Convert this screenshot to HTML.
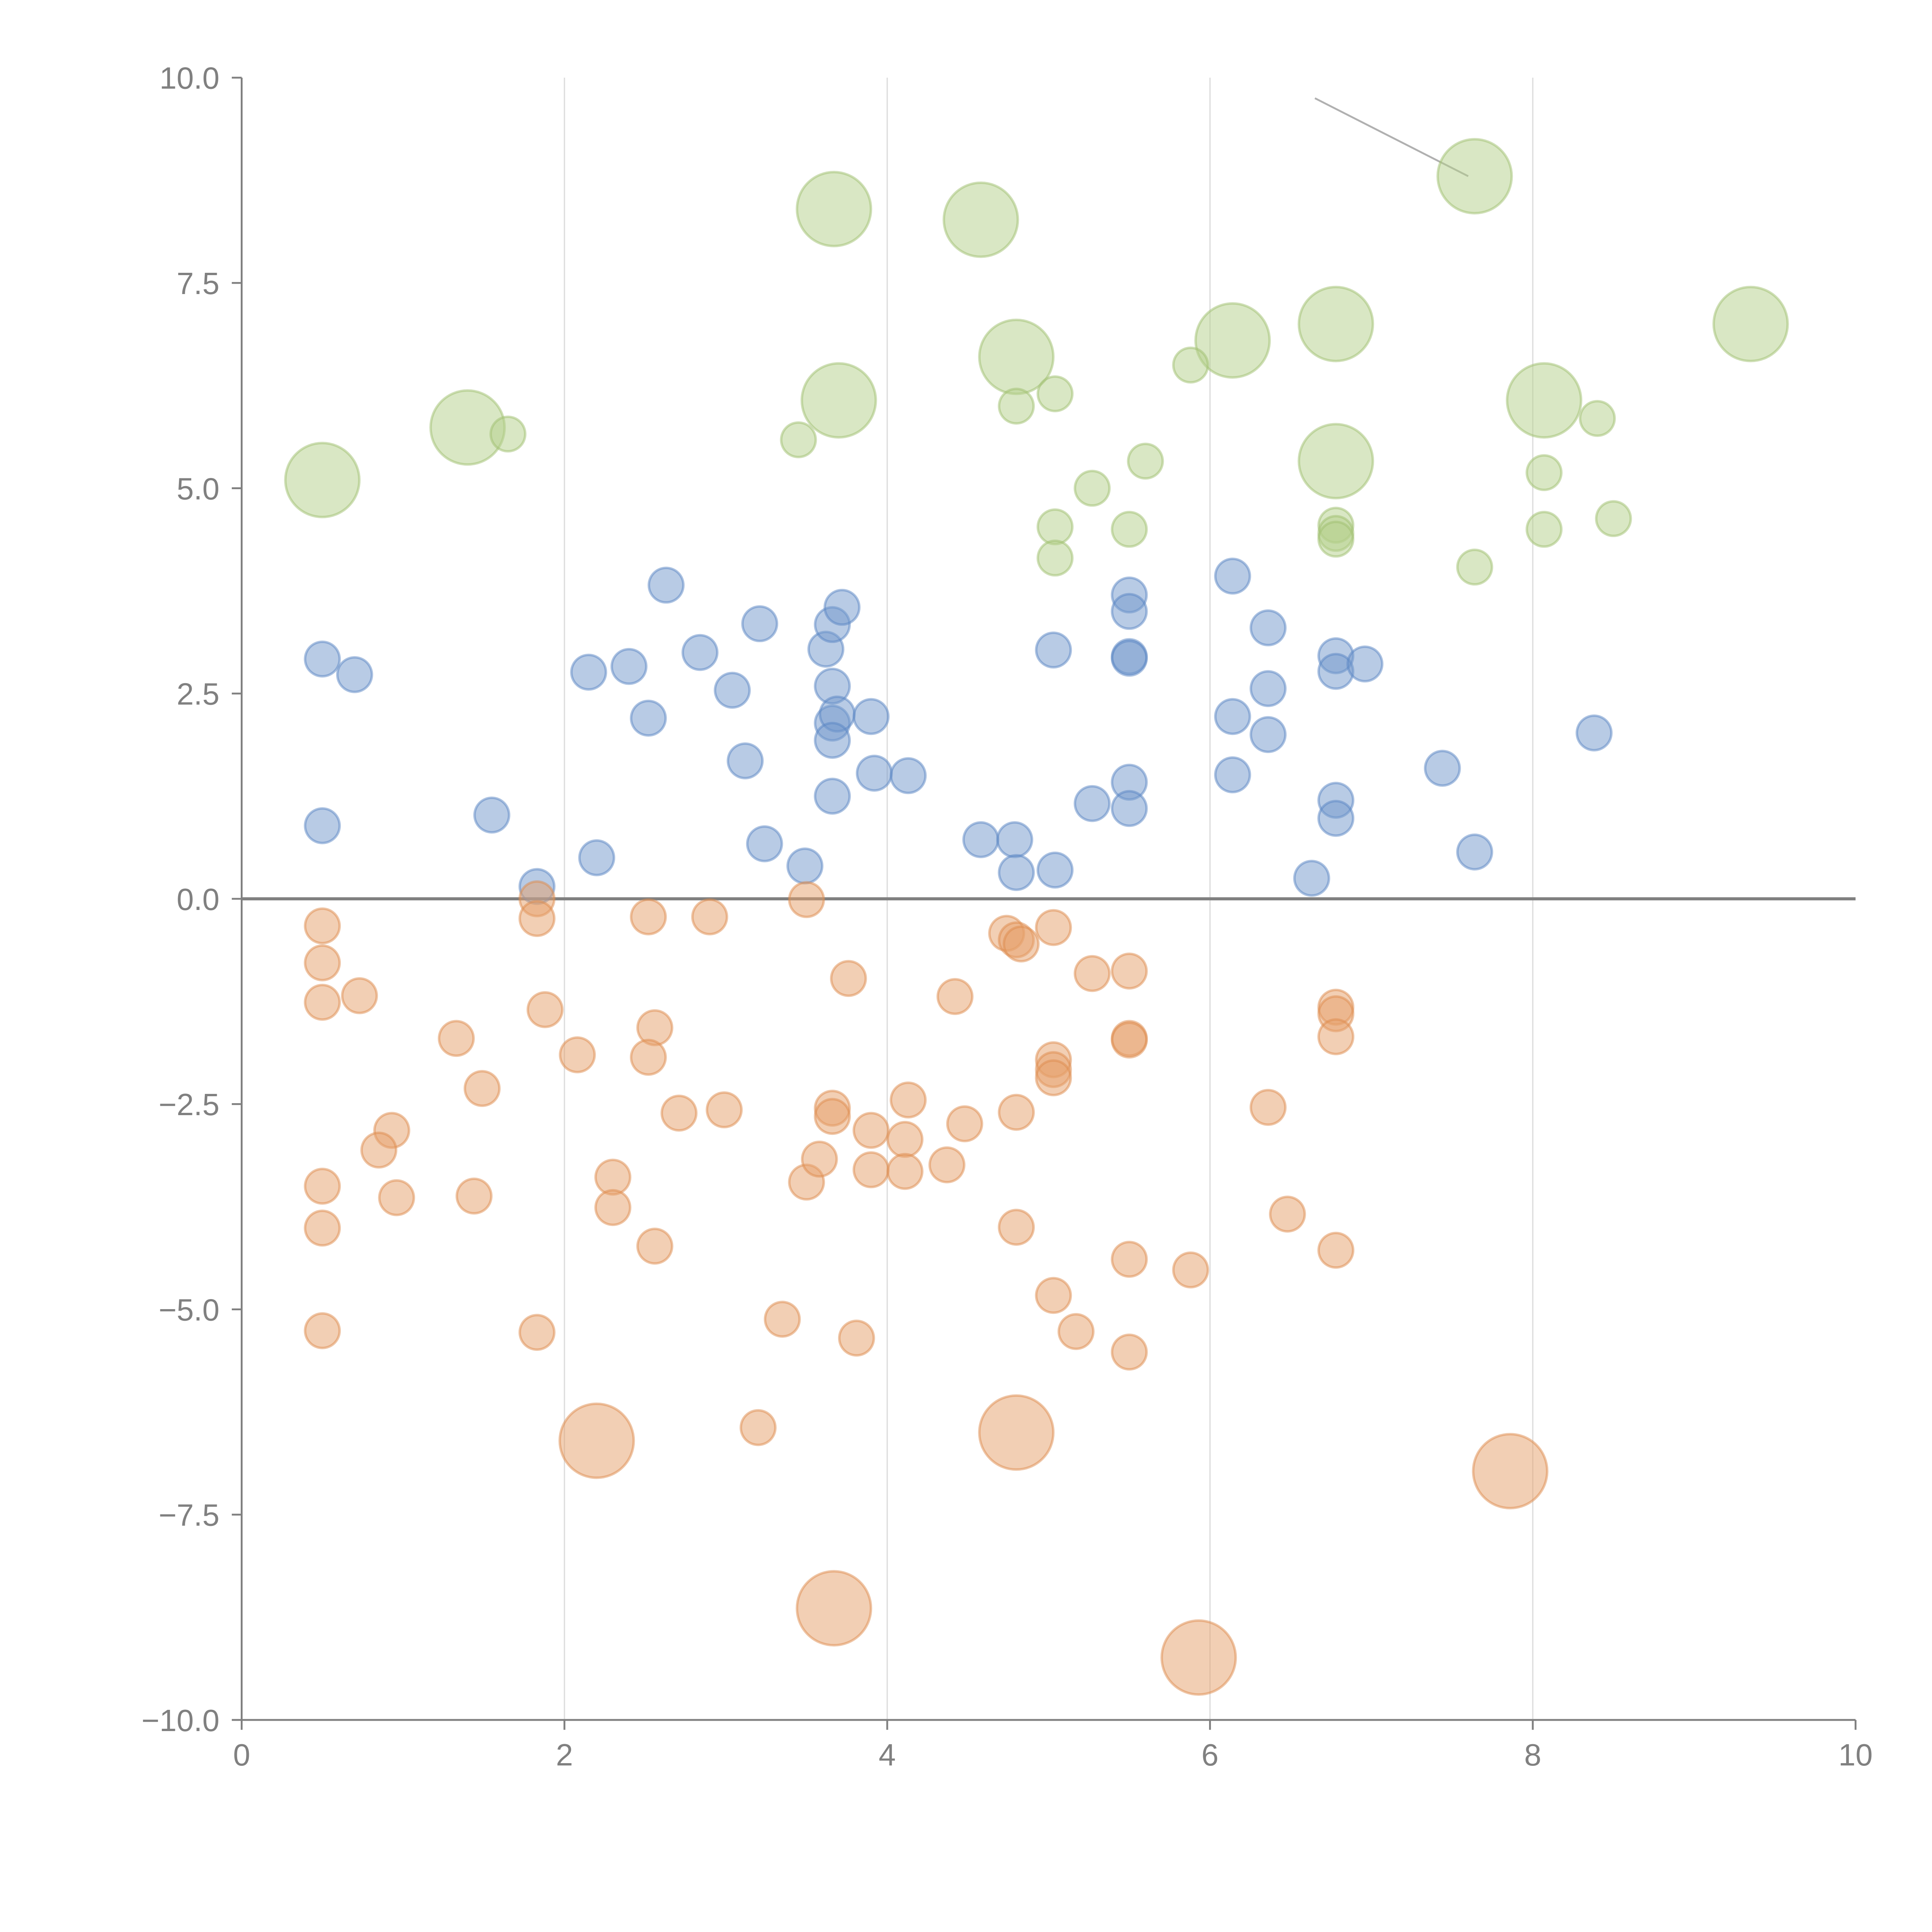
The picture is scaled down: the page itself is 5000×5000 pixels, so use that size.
<!DOCTYPE html>
<html><head><meta charset="utf-8"><style>html,body{margin:0;padding:0;background:#fff}svg{display:block}</style></head>
<body>
<svg id="chart" width="5000" height="5000" viewBox="0 0 1567 1567" xmlns="http://www.w3.org/2000/svg" font-family="Liberation Sans, sans-serif">
<g id="grid"></g>
<g id="axes"></g>
<g id="marks"></g>
</svg>
<script>
const xTicks=[0,2,4,6,8,10];
const yTicks=[10,7.5,5,2.5,0,-2.5,-5,-7.5,-10];
const yTickLabels=["10.0","7.5","5.0","2.5","0.0","\u22122.5","\u22125.0","\u22127.5","\u221210.0"];
const blueX=[0.5,0.7,0.5,1.55,1.83,2.2,2.15,2.4,2.52,2.63,2.84,3.04,3.12,3.21,3.24,3.49,3.62,3.66,3.72,3.66,3.66,3.69,3.66,3.66,3.9,3.92,4.13,4.58,4.79,4.8,5.03,5.04,5.27,5.5,5.5,5.5,5.5,5.5,5.5,6.14,6.14,6.14,6.36,6.36,6.36,6.63,6.78,6.78,6.96,6.78,6.78,7.44,7.64,8.38];
const blueY=[2.92,2.73,0.89,1.02,0.15,0.5,2.76,2.83,2.2,3.82,3.0,2.54,1.68,3.35,0.67,0.4,3.04,3.34,3.55,2.59,2.14,2.25,1.93,1.25,2.22,1.53,1.5,0.72,0.72,0.32,3.03,0.35,1.16,3.7,3.5,2.95,2.93,1.42,1.1,3.93,2.22,1.51,3.3,2.56,2.0,0.25,2.96,2.77,2.86,1.2,0.98,1.59,0.57,2.02];
const greenX=[0.5,1.4,3.67,3.7,4.58,4.8,6.14,6.78,6.78,7.64,8.07,9.35,1.65,3.45,4.8,5.04,5.27,5.04,5.04,5.5,5.6,5.88,6.78,6.78,6.78,7.64,8.07,8.07,8.4,8.5];
const greenY=[5.1,5.74,8.4,6.07,8.27,6.6,6.8,7.0,5.33,8.8,6.07,7.0,5.66,5.59,6.0,6.15,5.0,4.53,4.15,4.5,5.33,6.5,4.55,4.45,4.38,4.04,5.19,4.5,5.85,4.63];
const greenSize=[1,1,1,1,1,1,1,1,1,1,1,1,0,0,0,0,0,0,0,0,0,0,0,0,0,0,0,0,0,0];
const orangeX=[0.5,0.5,0.5,0.73,1.83,1.83,1.88,1.33,1.49,0.93,0.85,0.96,0.5,0.5,1.44,0.5,1.83,2.08,2.3,2.3,2.52,2.56,2.52,2.56,2.71,2.9,2.99,3.2,3.35,3.5,3.5,3.58,3.66,3.66,3.76,3.81,3.9,3.9,4.11,4.11,4.13,4.37,4.42,4.48,4.74,4.8,4.83,4.8,4.8,5.03,5.03,5.03,5.03,5.03,5.17,5.27,5.5,5.5,5.5,5.5,5.5,5.88,6.36,6.48,6.78,6.78,6.78,6.78,2.2,4.8,3.67,5.93,7.86];
const orangeY=[-0.33,-0.78,-1.26,-1.18,0.0,-0.24,-1.35,-1.7,-2.31,-2.82,-3.06,-3.64,-3.5,-4.01,-3.62,-5.26,-5.28,-1.9,-3.39,-3.76,-0.22,-1.57,-1.93,-4.23,-2.61,-0.22,-2.57,-6.44,-5.12,-0.01,-3.45,-3.17,-2.55,-2.65,-0.97,-5.35,-2.82,-3.3,-2.93,-3.32,-2.45,-3.24,-1.19,-2.74,-0.42,-0.5,-0.55,-2.6,-4.0,-0.35,-1.96,-2.08,-2.18,-4.83,-5.27,-0.91,-0.88,-1.7,-1.72,-4.39,-5.52,-4.52,-2.54,-3.84,-1.32,-1.4,-1.68,-4.28,-6.6,-6.5,-8.64,-9.24,-6.97];
const orangeSize=[0,0,0,0,0,0,0,0,0,0,0,0,0,0,0,0,0,0,0,0,0,0,0,0,0,0,0,0,0,0,0,0,0,0,0,0,0,0,0,0,0,0,0,0,0,0,0,0,0,0,0,0,0,0,0,0,0,0,0,0,0,0,0,0,0,0,0,0,1,1,1,1,1];
const NS="http://www.w3.org/2000/svg";
const X0=196,X1=1505,Y0=1395,Y1=63;
const sx=v=>X0+(v-0)/(10-0)*(X1-X0);
const sy=v=>Y0-(v+10)/20*(Y0-Y1);
function mk(tag,attrs,parent){const e=document.createElementNS(NS,tag);for(const k in attrs)e.setAttribute(k,attrs[k]);parent.appendChild(e);return e;}
const grid=document.getElementById('grid'),axes=document.getElementById('axes'),marks=document.getElementById('marks');
xTicks.forEach(t=>{
  if(t>0&&t<10){const g=mk('line',{x1:sx(t),x2:sx(t),y1:Y1,y2:Y0,stroke:'#dcdcdc','stroke-width':1},grid);
  
  }
  const tk=mk('line',{x1:sx(t),x2:sx(t),y1:Y0,y2:Y0+8,stroke:'#808080','stroke-width':1.5},axes);
  
  
  const tx=mk('text',{x:sx(t),y:Y0+37,'text-anchor':'middle','font-size':25,fill:'#808080'},axes);
  tx.textContent=String(t);
  
  
});
yTicks.forEach((t,i)=>{
  const tk=mk('line',{x1:X0-8,x2:X0,y1:sy(t),y2:sy(t),stroke:'#808080','stroke-width':1.5},axes);
  
  
  const tx=mk('text',{x:X0-18,y:sy(t)+9,'text-anchor':'end','font-size':25,fill:'#808080'},axes);
  tx.textContent=yTickLabels[i];
  
  
});
const ya=mk('line',{x1:X0,x2:X0,y1:Y1,y2:Y0,stroke:'#808080','stroke-width':1.5},axes);


const xa=mk('line',{x1:X0,x2:X1,y1:Y0,y2:Y0,stroke:'#808080','stroke-width':1.5},axes);


const zl=mk('line',{x1:X0,x2:X1,y1:sy(0),y2:sy(0),stroke:'#808080','stroke-width':2.5},axes);


const an=mk('line',{x1:sx(6.65),y1:sy(9.75),x2:sx(7.6),y2:sy(8.8),stroke:'#b0b0b0','stroke-width':1.5},axes);


function draw(xs,ys,sizes,fill,stroke,name){
  xs.forEach((x,i)=>{
    const r=sizes&&sizes[i]?30:14;
    const c=mk('circle',{cx:sx(x),cy:sy(ys[i]),r:r,fill:fill,'fill-opacity':0.5,stroke:stroke,'stroke-opacity':0.5,'stroke-width':2},marks);
    
    
  });
}
draw(blueX,blueY,null,'#7298cc','#5a86c4','blue-point');
draw(greenX,greenY,greenSize,'#b3cf8a','#a0c070','green-point');
draw(orangeX,orangeY,orangeSize,'#e6a06a','#de8c4e','orange-point');
</script>
</body></html>
